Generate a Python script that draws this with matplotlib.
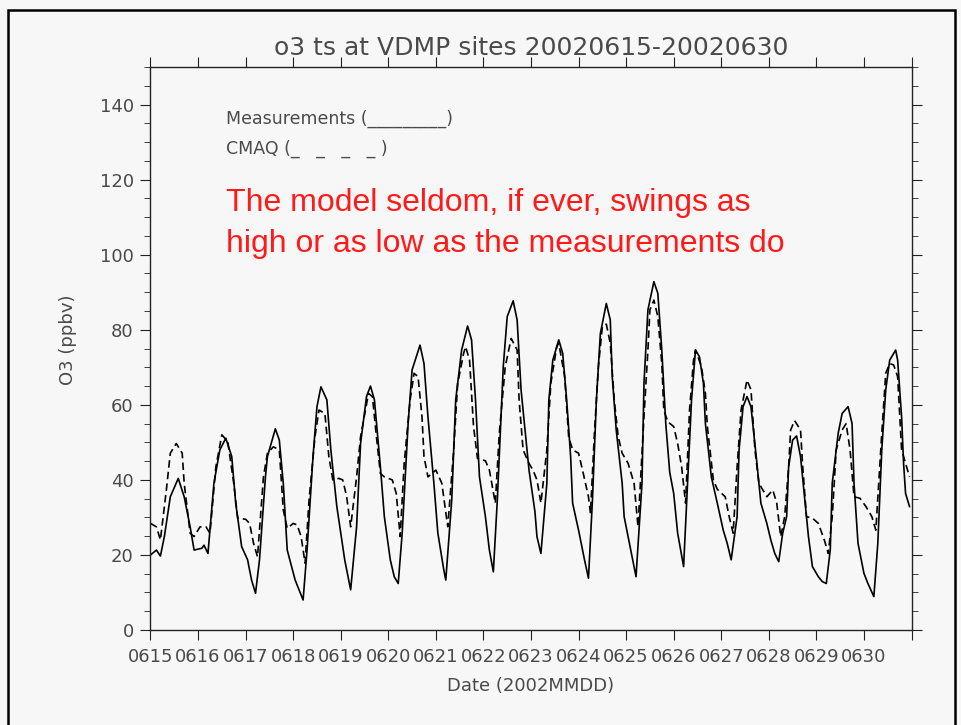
import matplotlib
matplotlib.use('Agg')
import matplotlib.pyplot as plt
from matplotlib.patches import Rectangle
from matplotlib.ticker import MultipleLocator

# dates on the x axis (one tick per day, 2002-06-15 .. 2002-06-30)
date_labels = ["0615", "0616", "0617", "0618", "0619", "0620", "0621", "0622",
               "0623", "0624", "0625", "0626", "0627", "0628", "0629", "0630"]

# hours since 2002-06-15 00 and O3 (ppbv)
meas_hours = [0, 3, 5, 7, 10, 14, 17, 20, 22, 26, 27, 29, 32, 35, 38, 41, 43, 46,
              49, 51, 53, 55, 58, 59, 63, 65, 67, 69, 73, 77, 79, 82, 84, 86, 89,
              91, 94, 98, 101, 104, 106, 109, 111, 113, 116, 118, 121, 123, 125,
              127, 130, 132, 136, 138, 140, 143, 145, 148, 149, 152, 154, 157, 160,
              162, 164, 166, 169, 171, 173, 175, 178, 180, 183, 185, 187, 190, 191,
              194, 195, 197, 200, 201, 203, 206, 208, 210, 212, 213, 216, 219, 221,
              223, 225, 227, 230, 232, 233, 235, 238, 239, 243, 245, 248, 249, 251,
              254, 256, 258, 260, 262, 264, 266, 269, 271, 273, 275, 277, 279, 280,
              283, 286, 289, 291, 293, 296, 297, 299, 301, 303, 306, 308, 311, 313,
              315, 317, 319, 321, 322, 324, 326, 328, 330, 332, 334, 337, 339, 341,
              343, 344, 347, 349, 352, 354, 355, 357, 360, 362, 365, 367, 369, 371,
              373, 376, 377, 379, 380, 381, 383]
meas_o3 = [20, 21.3, 19.7, 24.9, 35.5, 40.4, 35.5, 27.5, 21.3, 21.8, 22.6, 20.4,
           39.1, 48, 51.1, 46.2, 33.8, 22.2, 18.7, 13.3, 9.8, 18.7, 40.8, 46.2,
           53.6, 50.6, 39.1, 21.3, 13.3, 8, 21.3, 46.2, 59.5, 64.8, 61.3, 48, 33,
           18.7, 10.7, 27.5, 49.7, 62.2, 65, 61.3, 43.5, 30.2, 18.7, 14.2, 12.4,
           25.8, 55, 69.3, 75.9, 71, 56.8, 39.1, 25.8, 16, 13.3, 34.6, 61.3, 74.6,
           81, 77.3, 61.3, 40.8, 30.2, 21.3, 15.5, 34.6, 70.2, 83.5, 87.7, 82.6,
           63.9, 48, 42.6, 31.5, 24.9, 20.4, 39.1, 61.3, 71.9, 77.3, 73.7, 61.3,
           46.2, 33.8, 26.6, 18.7, 13.8, 34.6, 61.3, 79, 87, 82.6, 67.5, 53.3,
           39.1, 30.2, 19.5, 14.2, 39.1, 65.7, 85.3, 92.8, 89.7, 74.6, 55, 42,
           36.4, 25.8, 16.9, 39.1, 61.3, 74.6, 72.8, 65.7, 55, 40.8, 33.8, 26.6,
           23.1, 18.7, 30.2, 48, 59.5, 62.2, 59.5, 44.4, 33.8, 28.4, 24, 20.4,
           18.2, 25.8, 30.2, 43.5, 50.6, 51.7, 46.2, 35.5, 24.9, 16.9, 14.2, 12.9,
           12.4, 21.3, 39.1, 52.4, 57.7, 59.5, 55, 39.1, 23.1, 15.1, 12.4, 8.9,
           23.1, 48, 64, 71.9, 74.6, 71.9, 56.8, 44.4, 36.4, 32.9]

cmaq_hours = [0, 3, 5, 8, 10, 13, 16, 17, 20, 22, 25, 28, 30, 33, 36, 39, 42, 44,
              48, 50, 52, 54, 57, 59, 62, 65, 67, 69, 72, 74, 76, 78, 80, 83, 85,
              88, 90, 92, 95, 97, 99, 101, 104, 106, 110, 112, 114, 116, 118, 122,
              124, 126, 128, 131, 133, 135, 137, 138, 140, 144, 147, 150, 153, 155,
              158, 159, 161, 163, 165, 169, 171, 174, 176, 179, 182, 185, 186, 188,
              191, 193, 195, 197, 200, 202, 205, 206, 209, 211, 213, 216, 218, 221,
              222, 224, 226, 228, 230, 232, 234, 236, 238, 241, 244, 246, 249, 251,
              252, 254, 256, 258, 259, 261, 264, 266, 268, 270, 272, 274, 275, 278,
              280, 281, 284, 286, 290, 292, 294, 296, 298, 301, 303, 305, 307, 311,
              314, 316, 318, 320, 322, 323, 325, 328, 329, 331, 334, 337, 340, 342,
              344, 346, 349, 351, 353, 355, 358, 361, 364, 366, 369, 371, 373, 375,
              377, 379, 381, 383]
cmaq_o3 = [28.4, 27.5, 24, 37.3, 47.1, 49.7, 47.1, 39.1, 25.8, 24.9, 27.5, 27.5,
           25.8, 43.5, 52, 50.2, 39.1, 29.8, 29.5, 28.4, 23.1, 19.5, 40.8, 47.1,
           48.8, 48, 32, 27.1, 28.4, 28, 24.9, 17.8, 34.6, 51.5, 58.6, 57.7, 46.2,
           40, 40.4, 40, 35.5, 27.5, 40.8, 51.5, 63, 62.2, 51.5, 41.7, 40.8, 40,
           36.4, 24.9, 44.4, 61.3, 68.4, 67.5, 56.8, 46.2, 40.8, 42.6, 39.1, 27.5,
           48, 65.7, 73.7, 75.5, 71.9, 54.2, 45.7, 45.1, 42.6, 33.8, 52.4, 70.2,
           77.7, 74.6, 61.3, 48, 44.4, 42.6, 40, 33.8, 48, 65.7, 75.5, 76.4, 67.5,
           51.5, 48, 47.1, 42.6, 35.5, 31.1, 52.4, 70.2, 80.8, 81.5, 76.4, 61.3,
           51.5, 47.1, 44.4, 39.1, 27.5, 56.8, 74.6, 85.3, 87.9, 83.5, 71, 58.6,
           55.5, 54.2, 49.7, 43.5, 33.8, 58.6, 71.9, 74.6, 70.2, 63, 54.2, 40,
           37.5, 35.5, 30.2, 25.8, 43.5, 58.6, 66.6, 64, 48, 39.1, 35.5, 37.3,
           33.8, 24.9, 30.2, 43.5, 53.3, 55.8, 53.3, 44.4, 30.2, 29.8, 28.4, 24,
           20.4, 30.2, 48, 53.3, 55, 48, 35.5, 35.1, 32.9, 30.2, 26.6, 52.4, 68.4,
           71, 70.6, 67.5, 48, 44.4, 40.8]

bg = '#f7f7f7'
txt = '#4a4a4a'
plt.rcParams['font.family'] = ['DejaVu Sans']

fig = plt.figure(figsize=(9.61, 7.25), dpi=100, facecolor=bg)
ax = fig.add_axes([0.1566, 0.131, 0.7919, 0.7766])
ax.set_facecolor(bg)

ax.plot(meas_hours, meas_o3, color='black', lw=1.2)
ax.plot(cmaq_hours, cmaq_o3, color='black', lw=1.2, dashes=(4.5, 2.5))

ax.set_xlim(0, 384)
ax.set_ylim(0, 150)
ax.set_xticks(range(0, 385, 24))
ax.set_xticklabels(date_labels + [""])
ax.yaxis.set_major_locator(MultipleLocator(20))
ax.yaxis.set_minor_locator(MultipleLocator(5))

for s in ax.spines.values():
    s.set_color('#222222')
    s.set_linewidth(1.0)
ax.tick_params(axis='x', which='major', direction='out', length=7, top=True,
               pad=6, labelsize=13, labelcolor=txt, color='#222222')
ax.tick_params(axis='y', which='major', direction='out', length=7, right=True,
               pad=5, labelsize=13, labelcolor=txt, color='#222222')
ax.tick_params(axis='y', which='minor', direction='out', length=4, right=True,
               color='#222222')

fig.text(531 / 961, 1 - 48 / 725, "o3 ts at VDMP sites 20020615-20020630",
         ha='center', va='center', fontsize=18, color=txt)
fig.text(68 / 961, 1 - 340 / 725, "O3 (ppbv)", rotation=90, ha='center',
         va='center', fontsize=13, color=txt)
fig.text(531 / 961, 1 - 686 / 725, "Date (2002MMDD)", ha='center', va='center',
         fontsize=13, color=txt)

fig.text(226 / 961, 1 - 124 / 725, "Measurements (_________)", ha='left',
         va='baseline', fontsize=12.5, color=txt)
fig.text(226 / 961, 1 - 154 / 725, "CMAQ (_   _   _   _ )", ha='left',
         va='baseline', fontsize=12.5, color=txt)

fig.text(226 / 961, 1 - 211 / 725, "The model seldom, if ever, swings as",
         ha='left', va='baseline', fontsize=23, color='#ff1a1a',
         family='Liberation Sans')
fig.text(226 / 961, 1 - 252 / 725, "high or as low as the measurements do",
         ha='left', va='baseline', fontsize=23, color='#ff1a1a',
         family='Liberation Sans')

# frame around the whole picture
fig.patches.append(Rectangle((8 / 961, -0.02), 947 / 961, 1.02 - 10 / 725,
                             transform=fig.transFigure, fill=False,
                             edgecolor='black', lw=1.8))

fig.savefig('out.png', dpi=100, facecolor=bg)
